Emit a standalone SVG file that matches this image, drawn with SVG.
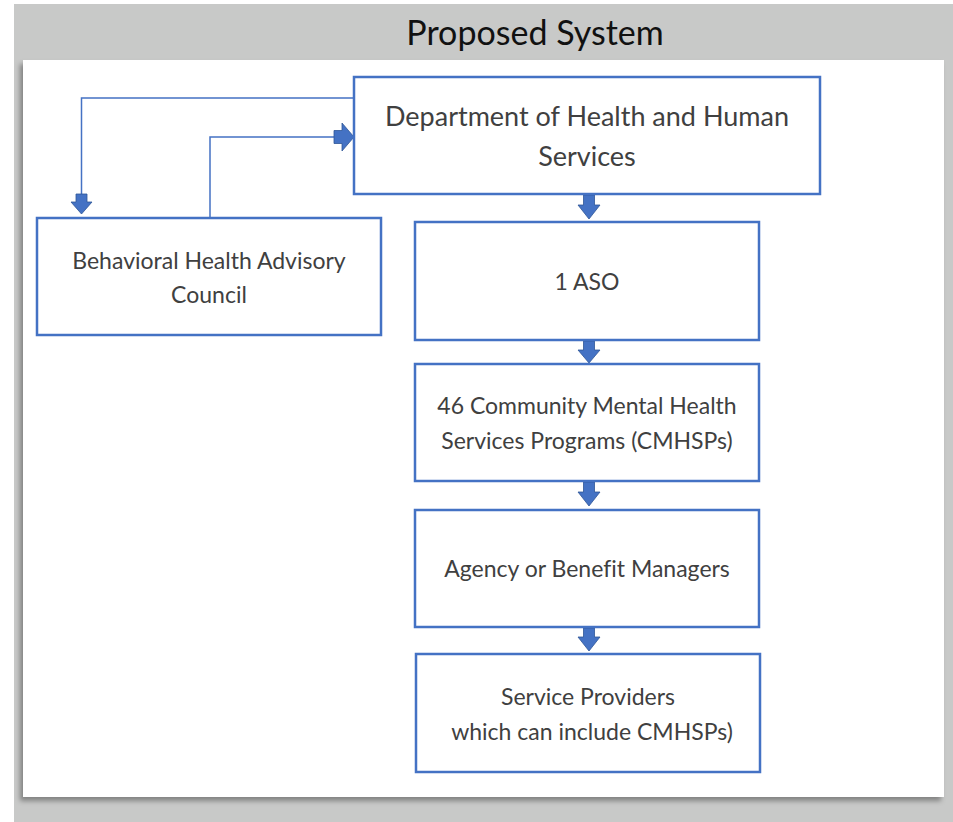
<svg xmlns="http://www.w3.org/2000/svg" width="953" height="822" viewBox="0 0 953 822">
  <defs>
    <filter id="panelShadow" x="-5%" y="-5%" width="110%" height="110%">
      <feDropShadow dx="-3" dy="4" stdDeviation="2.5" flood-color="#000" flood-opacity="0.35"/>
    </filter>
    <style>
      .box { fill: #ffffff; stroke: #4472C4; stroke-width: 2.5; }
      .lbl { font-family: Lato, "Open Sans", "Liberation Sans", sans-serif; fill: #404040; text-anchor: middle; font-variant-ligatures: none; }
      .line { fill: none; stroke: #4472C4; stroke-width: 1.5; }
      .blk { fill: #4472C4; stroke: #2F5597; stroke-width: 0.8; }
      .title { font-family: Lato, "Open Sans", "Liberation Sans", sans-serif; fill: #111; font-size: 34px; text-anchor: middle; }
    </style>
  </defs>

  <!-- page background -->
  <rect x="0" y="0" width="953" height="822" fill="#ffffff"/>
  <rect x="14" y="4" width="939" height="818" fill="#C8C9C8"/>
  <text class="title" x="535" y="45">Proposed System</text>

  <!-- content panel -->
  <rect x="23" y="60" width="921" height="737" fill="#ffffff" filter="url(#panelShadow)"/>

  <!-- connectors -->
  <g id="connectors">
    <!-- DHHS to advisory council -->
    <polyline class="line" points="354,98 81.5,98 81.5,196"/>
    <path class="blk" d="M76,194 H87 V202 H92 L81.5,214 L71,202 H76 Z"/>
    <!-- advisory council to DHHS -->
    <polyline class="line" points="210,218 210,137 336,137"/>
    <path class="blk" d="M334,130.5 H342 V123 L354,137 L342,151 V143.5 H334 Z"/>
    <!-- vertical chain -->
    <path class="blk" d="M583.5,195 H594.5 V205 H600 L589,219 L578,205 H583.5 Z"/>
    <path class="blk" d="M583.5,341 H594.5 V350 H600 L589,363 L578,350 H583.5 Z"/>
    <path class="blk" d="M583.5,482 H594.5 V492 H600 L589,506 L578,492 H583.5 Z"/>
    <path class="blk" d="M583.5,628 H594.5 V637 H600 L589,651 L578,637 H583.5 Z"/>
  </g>

  <g id="dhhs">
    <rect class="box" x="354" y="77" width="466" height="117"/>
    <text class="lbl" x="587" y="126" font-size="27">Department of Health and Human</text>
    <text class="lbl" x="587" y="166" font-size="27">Services</text>
  </g>

  <g id="advisory-council">
    <rect class="box" x="37" y="218" width="344" height="117"/>
    <text class="lbl" x="209" y="269" font-size="23">Behavioral Health Advisory</text>
    <text class="lbl" x="209" y="303" font-size="23">Council</text>
  </g>

  <g id="aso">
    <rect class="box" x="415" y="222" width="344" height="118"/>
    <text class="lbl" x="587" y="290" font-size="23">1 ASO</text>
  </g>

  <g id="cmhsp">
    <rect class="box" x="415" y="364" width="344" height="117"/>
    <text class="lbl" x="587" y="414" font-size="23">46 Community Mental Health</text>
    <text class="lbl" x="587" y="449" font-size="23">Services Programs (CMHSPs)</text>
  </g>

  <g id="managers">
    <rect class="box" x="415" y="510" width="344" height="117"/>
    <text class="lbl" x="587" y="577" font-size="23">Agency or Benefit Managers</text>
  </g>

  <g id="providers">
    <rect class="box" x="416" y="654" width="344" height="118"/>
    <text class="lbl" x="588" y="705" font-size="23">Service Providers</text>
    <text class="lbl" x="592" y="740" font-size="23">which can include CMHSPs)</text>
  </g>
</svg>
